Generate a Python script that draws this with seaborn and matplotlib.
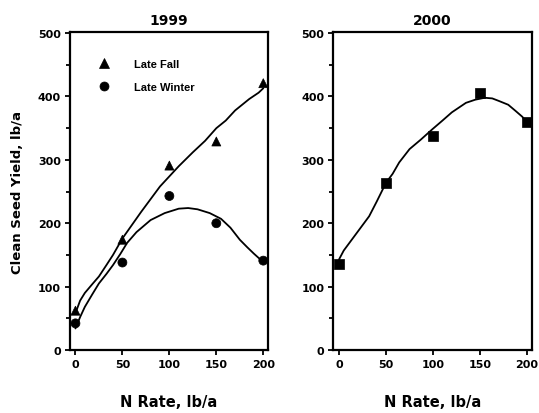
import matplotlib
matplotlib.use("Agg")
import matplotlib.pyplot as plt
import seaborn as sns
import pandas as pd

# ---- data ----
n_rate = [0, 50, 100, 150, 200]
fall_1999 = [62, 174, 291, 329, 421]
winter_1999 = [42, 138, 243, 200, 141]
yield_2000 = [135, 264, 338, 406, 359]

fall_curve_x = [0, 5, 10, 18, 25, 33, 40, 50, 60, 70, 80, 90, 100, 110, 125, 138, 150, 160, 170, 185, 195, 200]
fall_curve_y = [58, 78, 90, 104, 116, 134, 150, 176, 197, 218, 238, 258, 274, 290, 312, 330, 350, 362, 378, 396, 406, 413]
winter_curve_x = [0, 5, 10, 18, 25, 33, 40, 48, 55, 65, 80, 95, 110, 120, 130, 143, 155, 165, 175, 183, 190, 196, 200]
winter_curve_y = [34, 52, 68, 88, 105, 120, 134, 152, 169, 186, 205, 216, 223, 224, 222, 216, 207, 193, 174, 162, 152, 144, 137]
curve2000_x = [0, 5, 11, 20, 32, 40, 50, 57, 64, 75, 87, 99, 110, 120, 135, 145, 155, 163, 170, 180, 188, 195, 200]
curve2000_y = [143, 157, 169, 187, 211, 234, 264, 278, 296, 317, 332, 348, 362, 375, 390, 395, 398, 397, 393, 387, 377, 368, 359]

titles = ["1999", "2000"]
series_names = ["Late Fall", "Late Winter"]
x_ticks = [0, 50, 100, 150, 200]
y_ticks = [0, 100, 200, 300, 400, 500]

sns.set_theme(style="ticks")
plt.rcParams["font.family"] = ["DejaVu Sans"]
plt.rcParams["text.color"] = "black"
plt.rcParams["axes.labelcolor"] = "black"
plt.rcParams["xtick.color"] = "black"
plt.rcParams["ytick.color"] = "black"

fig = plt.figure(figsize=(5.39, 4.14), dpi=100)
ax1 = fig.add_axes([0.1295, 0.1522, 0.3677, 0.7669])
ax2 = fig.add_axes([0.6186, 0.1522, 0.3679, 0.7669])

pts99 = pd.DataFrame({
    "N": n_rate * 2,
    "Y": fall_1999 + winter_1999,
    "Timing": [series_names[0]] * 5 + [series_names[1]] * 5,
})
sns.scatterplot(data=pts99, x="N", y="Y", style="Timing",
                markers={series_names[0]: "^", series_names[1]: "o"},
                color="black", s=42, edgecolor="black", linewidth=0.5, ax=ax1, zorder=3)
sns.lineplot(x=fall_curve_x, y=fall_curve_y, color="black", lw=1.3, ax=ax1)
sns.lineplot(x=winter_curve_x, y=winter_curve_y, color="black", lw=1.3, ax=ax1)

pts00 = pd.DataFrame({"N": n_rate, "Y": yield_2000})
sns.scatterplot(data=pts00, x="N", y="Y", marker="s", color="black", s=55,
                edgecolor="black", linewidth=0.5, ax=ax2, zorder=3)
sns.lineplot(x=curve2000_x, y=curve2000_y, color="black", lw=1.3, ax=ax2)

for ax, t in zip([ax1, ax2], titles):
    ax.set_xlim(-6, 205)
    ax.set_ylim(0, 501)
    ax.set_xticks(x_ticks)
    ax.set_yticks(y_ticks)
    ax.set_yticks([50, 150, 250, 350, 450], minor=True)
    ax.tick_params(axis="both", which="major", direction="out", length=3.5, width=1.3,
                   labelsize=8, pad=3, color="black", labelcolor="black")
    ax.tick_params(axis="y", which="minor", direction="out", length=3, width=1.3, color="black")
    for lab in ax.get_xticklabels() + ax.get_yticklabels():
        lab.set_fontweight("bold")
    for sp in ax.spines.values():
        sp.set_visible(True)
        sp.set_linewidth(1.6)
        sp.set_color("black")
    ax.set_title(t, fontsize=10, fontweight="bold", pad=6, color="black")
    ax.set_xlabel("N Rate, lb/a", fontsize=10.5, fontweight="bold", labelpad=18, color="black")
    ax.set_ylabel("")

ax1.set_ylabel("Clean Seed Yield, lb/a", fontsize=9.5, fontweight="bold", labelpad=10, color="black")

leg = ax1.legend(loc="upper left", bbox_to_anchor=(0.145, 0.918), frameon=False,
                 borderpad=0, borderaxespad=0, handlelength=1.0, handletextpad=2.2,
                 labelspacing=1.2, markerscale=1.0,
                 prop={"family": ["Liberation Sans", "DejaVu Sans"],
                       "weight": "bold", "size": 8})
for txt in leg.get_texts():
    txt.set_color("black")

fig.savefig("out.png", dpi=100)
